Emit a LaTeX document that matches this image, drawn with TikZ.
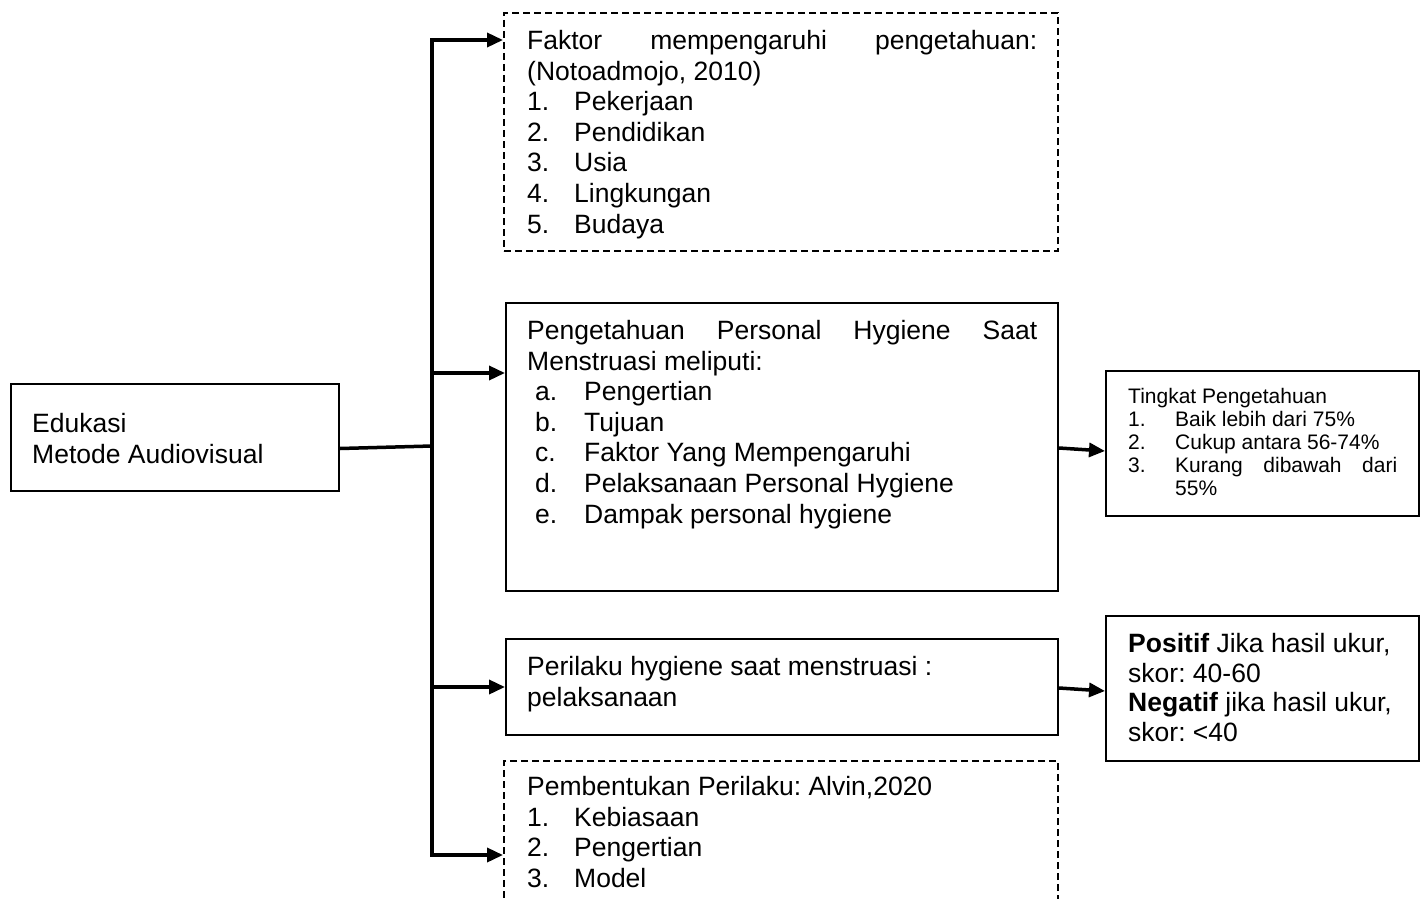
\documentclass[tikz,border=0pt]{standalone}
\usepackage{fontspec}
\setmainfont{Liberation Sans}
\usetikzlibrary{arrows.meta}
\frenchspacing
\newcommand{\itm}[2]{\makebox[47pt][l]{#1}#2}
\newcommand{\jline}[2]{\hbox to #1{#2}}
\begin{document}
\begin{tikzpicture}[x=1pt,y=-1pt,
  box/.style={draw,line width=2pt,inner sep=0pt,anchor=north west},
  dbox/.style={box,dash pattern=on 7pt off 4pt},
  txt/.style={anchor=north west,inner sep=0pt,align=left,font=\fontsize{26.5}{30.6}\selectfont},
  stxt/.style={txt,font=\fontsize{21}{23}\selectfont},
  conn/.style={line width=3.5pt},
  arr/.style={conn,-{Triangle[length=16pt,width=14pt]}}]
\useasboundingbox (0,0) rectangle (1421,899);
\clip (0,0) rectangle (1421,899);
% boxes
\node[box,minimum width=328,minimum height=107] (edu) at (10,383) {};
\node[dbox,minimum width=554,minimum height=238] (b1) at (503,12) {};
\node[box,minimum width=552,minimum height=288] (b2) at (505,302) {};
\node[box,minimum width=552,minimum height=96] (b3) at (505,638) {};
\node[dbox,minimum width=554,minimum height=170] (b4) at (503,760) {};
\node[box,minimum width=313,minimum height=145] (tk) at (1105,370) {};
\node[box,minimum width=313,minimum height=145] (ps) at (1105,615) {};
% texts
\node[txt] (tedu) at (32,413) {Edukasi\\Metode Audiovisual};
\node[txt] (tb1) at (527,30) {\jline{510pt}{Faktor\hfill mempengaruhi\hfill pengetahuan:}\\(Notoadmojo, 2010)\\
  \itm{1.}{Pekerjaan}\\\itm{2.}{Pendidikan}\\\itm{3.}{Usia}\\\itm{4.}{Lingkungan}\\\itm{5.}{Budaya}};
\node[txt] (tb2) at (527,320) {\jline{510pt}{Pengetahuan\hfill Personal\hfill Hygiene\hfill Saat}\\Menstruasi meliputi:\\
  \hspace*{8pt}\makebox[49pt][l]{a.}Pengertian\\\hspace*{8pt}\makebox[49pt][l]{b.}Tujuan\\
  \hspace*{8pt}\makebox[49pt][l]{c.}Faktor Yang Mempengaruhi\\\hspace*{8pt}\makebox[49pt][l]{d.}Pelaksanaan Personal Hygiene\\
  \hspace*{8pt}\makebox[49pt][l]{e.}Dampak personal hygiene};
\node[txt] (tb3) at (527,656) {Perilaku hygiene saat menstruasi :\\pelaksanaan};
\node[txt] (tb4) at (527,776) {Pembentukan Perilaku: Alvin,2020\\\itm{1.}{Kebiasaan}\\\itm{2.}{Pengertian}\\\itm{3.}{Model}};
\node[stxt] (ttk) at (1128,388) {Tingkat Pengetahuan\\\itm{1.}{Baik lebih dari 75\%}\\\itm{2.}{Cukup antara 56-74\%}\\
  \itm{3.}{\jline{222pt}{Kurang\hfill dibawah\hfill dari}}\\\hspace*{47pt}55\%};
\node[txt,font=\fontsize{26.5}{29.7}\selectfont] (tps) at (1128,633) {\textbf{Positif} Jika hasil ukur,\\skor: 40-60\\\textbf{Negatif} jika hasil ukur,\\skor: <40};
% connectors
\coordinate (t1) at (432,40);
\coordinate (t2) at (432,373);
\coordinate (j0) at (432,446);
\coordinate (t3) at (432,687);
\coordinate (t4) at (432,855);
\draw[conn] ([yshift=-11pt]edu.east) -- (j0);
\draw[arr] (t4) -- (t1) -- (t1 -| b1.west);
\draw[arr] (t1) -- (t4) -- (t4 -| b4.west);
\draw[arr] (t2) -- (t2 -| b2.west);
\draw[arr] (t3) -- (t3 -| b3.west);
\draw[arr] ([yshift=-1pt]b2.east) -- ([yshift=-7.5pt]tk.west);
\draw[arr] ([yshift=-1pt]b3.east) -- ([yshift=-2.5pt]ps.west);
\end{tikzpicture}
\end{document}
